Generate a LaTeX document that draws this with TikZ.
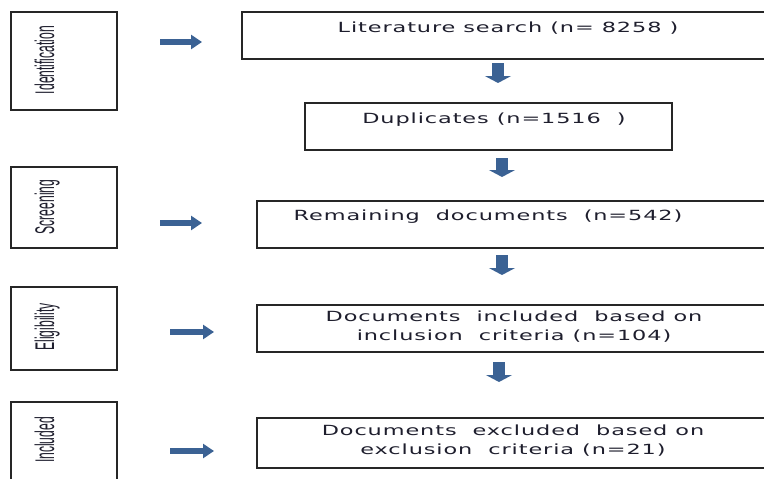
\documentclass[tikz,border=0pt]{standalone}
\usepackage{fontspec}
\usetikzlibrary{arrows.meta}
\newfontfamily\boxfont{DejaVu Sans}[LetterSpace=4]
\newfontfamily\sidefont{Liberation Sans}
\definecolor{arrowblue}{RGB}{59,98,148}
\definecolor{txtcol}{RGB}{30,30,45}
\tikzset{
  box/.style={draw=black!85, line width=1.3pt, rectangle, inner sep=0pt, outer sep=0pt, anchor=north west},
  boxtext/.style={font=\boxfont\fontsize{14}{19}\selectfont, text=txtcol, align=center, inner sep=0pt, xscale=1.6},
  sidetext/.style={font=\sidefont\fontsize{27}{30}\selectfont, text=txtcol, inner sep=0pt, rotate=90, anchor=base},
  harrow/.style={arrowblue, line width=6pt, -{Triangle[length=11pt,width=14pt]}},
  varrow/.style={arrowblue, line width=12pt, -{Triangle[length=7pt,width=26pt]}}
}
\begin{document}
\begin{tikzpicture}[x=1pt,y=-1pt]
\useasboundingbox (0,0) rectangle (764,479);
\clip (0,0) rectangle (764,479);
% left stage boxes
\node[box, minimum width=106pt, minimum height=98pt] (idb) at (11,12) {};
\node[box, minimum width=106pt, minimum height=81pt] (scb) at (11,167) {};
\node[box, minimum width=106pt, minimum height=83pt] (elb) at (11,287) {};
\node[box, minimum width=106pt, minimum height=78pt] (inb) at (11,402) {};
\node[sidetext] (idt) at (54,60) {\scalebox{0.45}[1]{Identification}};
\node[sidetext] (sct) at (54,207) {\scalebox{0.45}[1]{Screening}};
\node[sidetext] (elt) at (54,327) {\scalebox{0.45}[1]{Eligibility}};
\node[sidetext] (int) at (54,440) {\scalebox{0.45}[1]{Included}};
% right boxes
\node[box, minimum width=530pt, minimum height=47pt] (lit) at (242,12) {};
\node[box, minimum width=367pt, minimum height=47pt] (dup) at (305,103) {};
\node[box, minimum width=515pt, minimum height=47pt] (rem) at (257,201) {};
\node[box, minimum width=515pt, minimum height=47pt] (inc) at (257,305) {};
\node[box, minimum width=515pt, minimum height=50pt] (exc) at (257,418) {};
\node[boxtext, anchor=base] (litt) at (508,32) {Literature search (n= 8258 )};
\node[boxtext, anchor=base] (dupt) at (494,123) {Duplicates (n=1516\ \ )};
\node[boxtext, anchor=base] (remt) at (488,220) {Remaining\ \ documents\ \ (n=542)};
\node[boxtext] (inct) at (514,327) {Documents\ \ included\ \ based on\\inclusion\ \ criteria (n=104)};
\node[boxtext] (exct) at (513,441) {Documents\ \ excluded\ \ based on\\exclusion\ \ criteria (n=21)};
% horizontal arrows
\coordinate (h1a) at (160,42); \coordinate (h1b) at (202,42);
\coordinate (h2a) at (160,223); \coordinate (h2b) at (202,223);
\coordinate (h3a) at (170,332); \coordinate (h3b) at (214,332);
\coordinate (h4a) at (170,451); \coordinate (h4b) at (214,451);
\draw[harrow] (h1a) -- (h1b);
\draw[harrow] (h2a) -- (h2b);
\draw[harrow] (h3a) -- (h3b);
\draw[harrow] (h4a) -- (h4b);
% vertical arrows
\coordinate (v1a) at (498,63); \coordinate (v1b) at (498,83);
\coordinate (v2a) at (502,158); \coordinate (v2b) at (502,177);
\coordinate (v3a) at (502,255); \coordinate (v3b) at (502,275);
\coordinate (v4a) at (499,362); \coordinate (v4b) at (499,382);
\draw[varrow] (v1a) -- (v1b);
\draw[varrow] (v2a) -- (v2b);
\draw[varrow] (v3a) -- (v3b);
\draw[varrow] (v4a) -- (v4b);
\end{tikzpicture}
\end{document}
